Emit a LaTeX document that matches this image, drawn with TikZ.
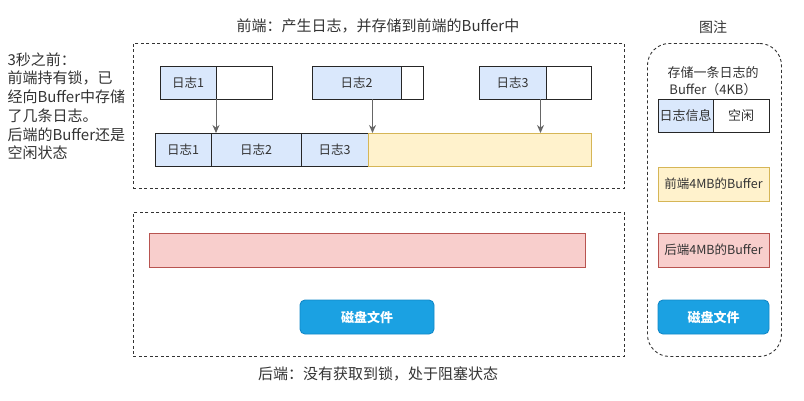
\documentclass[tikz,border=0pt]{standalone}
\usepackage{fontspec}
\setmainfont{Noto Sans CJK SC}
\usepackage{tikz}
\usetikzlibrary{positioning,calc,arrows.meta}
\definecolor{logfill}{HTML}{DAE8FC}
\definecolor{frontfill}{HTML}{FFF2CC}
\definecolor{frontline}{HTML}{D6B656}
\definecolor{backfill}{HTML}{F8CECC}
\definecolor{backline}{HTML}{B85450}
\definecolor{diskfill}{HTML}{1BA1E2}
\definecolor{diskline}{HTML}{1288C8}
\definecolor{txt}{HTML}{333333}
\definecolor{arrcol}{HTML}{666666}
\newcommand{\fsz}[1]{\fontsize{#1}{#1}\selectfont}

\begin{document}
\begin{tikzpicture}[x=1pt,y=-1pt,text=txt,
  ce/.style={draw=black!85,line width=0.9pt,minimum height=33pt,inner sep=0pt,outer sep=0pt,
             anchor=north west,font=\fsz{12.5}},
  clog/.style={ce,fill=logfill},
  cfree/.style={ce,fill=white},
  cfront/.style={ce,draw=frontline,fill=frontfill},
  cback/.style={ce,draw=backline,fill=backfill},
  cdisk/.style={ce,draw=diskline,fill=diskfill,rounded corners=5pt,text=white,font=\fsz{13}\bfseries},
  dbox/.style={draw=black!80,line width=0.9pt,dash pattern=on 3pt off 2.5pt,inner sep=0pt,anchor=north west},
  arr/.style={draw=arrcol,line width=0.9pt,-{Stealth[length=8pt,width=7pt]}},
  lbl/.style={font=\fsz{15}}]
  \useasboundingbox (0,0) rectangle (804,400);
  % front end region
  \node[dbox,minimum width=491pt,minimum height=145pt] (front) at (133,43) {};
  \node[lbl] (ftitle) at (378,26) {前端：产生日志，并存储到前端的Buffer中};
  % single log buffers (4KB)
  \node[clog,minimum width=56pt] (l1a) at (160,66) {日志1};
  \node[cfree,minimum width=56pt] (l1b) at (216,66) {};
  \node[clog,minimum width=89pt] (l2a) at (312,66) {日志2};
  \node[cfree,minimum width=22pt] (l2b) at (401,66) {};
  \node[clog,minimum width=67pt] (l3a) at (479,66) {日志3};
  \node[cfree,minimum width=45pt] (l3b) at (546,66) {};
  % front 4MB buffer
  \node[clog,minimum width=56pt] (b1) at (155,133) {日志1};
  \node[clog,minimum width=90pt] (b2) at (211,133) {日志2};
  \node[clog,minimum width=67pt] (b3) at (301,133) {日志3};
  \node[cfront,minimum width=223pt] (bfree) at (368,133) {};
  % writes into the buffer
  \draw[arr] (l1a.south east) -- (l1a.south east |- b2.north);
  \draw[arr] ([xshift=16pt]l2a.south) -- ([xshift=16pt]l2a.south |- bfree.north);
  \draw[arr] ([xshift=28pt]l3a.south) -- ([xshift=28pt]l3a.south |- bfree.north);
  % left note
  \node[lbl,anchor=north west,align=left,font=\fontsize{15}{18.7}\selectfont] (note) at (4,49)
     {3秒之前：\\前端持有锁，已\\经向Buffer中存储\\了几条日志。\\后端的Buffer还是\\空闲状态};
  % back end region
  \node[dbox,minimum width=491pt,minimum height=144pt] (back) at (133,212) {};
  \node[cback,minimum width=436pt,minimum height=34pt] (bbuf) at (149,233) {};
  \node[cdisk,minimum width=134pt,minimum height=34pt] (disk) at (300,300) {磁盘文件};
  \node[lbl] (btitle) at (378,374) {后端：没有获取到锁，处于阻塞状态};
  % legend
  \node[dbox,rounded corners=22pt,minimum width=134pt,minimum height=313pt] (legend) at (647,43) {};
  \node[lbl,font=\fsz{14}] (ltitle) at (713,27) {图注};
  \node[font=\fontsize{13}{17}\selectfont,align=center] (lnote) at (713,81) {存储一条日志的\\Buffer（4KB）};
  \node[clog,minimum width=55pt,font=\fsz{13}] (kinfo) at (658,99) {日志信息};
  \node[cfree,minimum width=56pt,font=\fsz{13}] (kfree) at (713,99) {空闲};
  \node[cfront,minimum width=111pt,minimum height=34pt,font=\fsz{12.5}] (kfront) at (658,167) {前端4MB的Buffer};
  \node[cback,minimum width=111pt,minimum height=34pt,font=\fsz{12.5}] (kback) at (658,233) {后端4MB的Buffer};
  \node[cdisk,minimum width=111pt,minimum height=34pt] (kdisk) at (658,300) {磁盘文件};
\end{tikzpicture}
\end{document}
